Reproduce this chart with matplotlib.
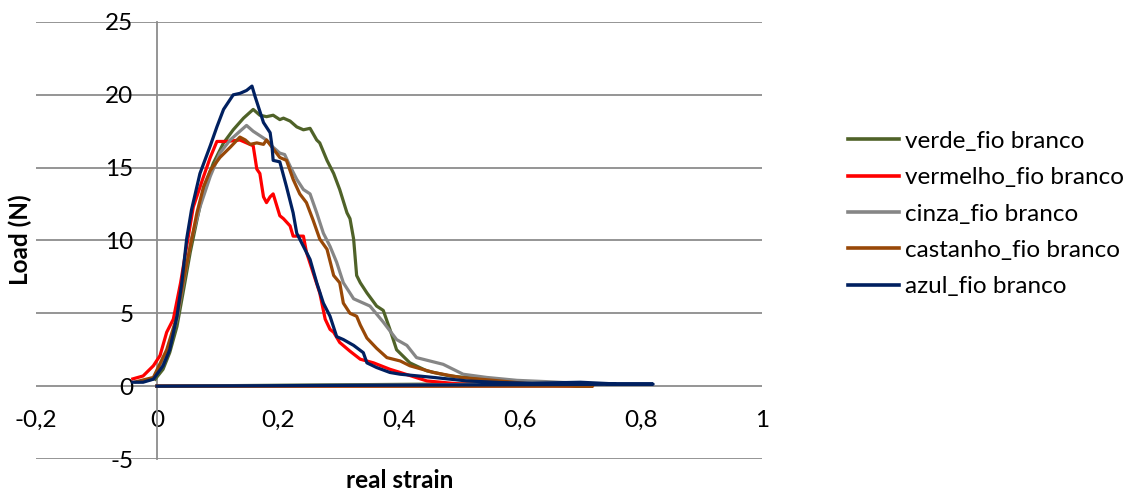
import matplotlib
matplotlib.use("Agg")
import matplotlib.pyplot as plt

plt.rcParams['font.family'] = ['Lato', 'DejaVu Sans']

# ---- data (strain, load) ----
verde_x = [-0.003, 0.010, 0.021, 0.033, 0.043, 0.055, 0.066, 0.077, 0.093, 0.110, 0.126, 0.143, 0.159,
           0.170, 0.181, 0.192, 0.203, 0.209, 0.220, 0.231, 0.242, 0.253, 0.264, 0.269, 0.281, 0.292,
           0.302, 0.314, 0.319, 0.325, 0.330, 0.336, 0.347, 0.363, 0.374, 0.385, 0.396, 0.418, 0.446,
           0.484, 0.539, 0.595, 0.650, 0.0]
verde_y = [0.48, 1.16, 2.3, 4.1, 6.4, 9.2, 11.4, 13.5, 15.3, 16.7, 17.6, 18.4, 19.0,
           18.6, 18.5, 18.6, 18.3, 18.4, 18.2, 17.8, 17.6, 17.7, 16.9, 16.7, 15.5, 14.6,
           13.5, 11.9, 11.5, 10.1, 7.6, 7.1, 6.4, 5.5, 5.2, 3.9, 2.5, 1.6, 1.05,
           0.7, 0.48, 0.3, 0.2, 0.0]

vermelho_x = [-0.040, -0.023, -0.006, 0.005, 0.016, 0.027, 0.039, 0.049, 0.060, 0.077, 0.088, 0.099,
              0.115, 0.137, 0.159, 0.165, 0.170, 0.176, 0.181, 0.187, 0.192, 0.203, 0.209, 0.220,
              0.225, 0.242, 0.247, 0.258, 0.269, 0.278, 0.286, 0.292, 0.302, 0.319, 0.336, 0.358,
              0.385, 0.402, 0.446, 0.50, 0.60, 0.72, 0.0]
vermelho_y = [0.5, 0.7, 1.4, 2.1, 3.7, 4.6, 7.1, 9.6, 12.3, 14.4, 15.7, 16.8,
              16.8, 16.9, 16.5, 14.9, 14.6, 13.0, 12.6, 13.0, 13.2, 11.7, 11.5, 11.0,
              10.3, 10.3, 9.2, 7.8, 6.4, 4.6, 3.9, 3.7, 3.0, 2.4, 1.85, 1.6,
              1.16, 0.94, 0.36, 0.15, 0.08, 0.02, 0.0]

cinza_x = [-0.030, -0.006, 0.016, 0.033, 0.046, 0.057, 0.071, 0.088, 0.104, 0.121, 0.137, 0.148,
           0.159, 0.170, 0.181, 0.192, 0.203, 0.211, 0.220, 0.231, 0.242, 0.253, 0.264, 0.275,
           0.286, 0.297, 0.308, 0.325, 0.352, 0.374, 0.396, 0.413, 0.429, 0.473, 0.506, 0.545,
           0.595, 0.650, 0.720, 0.0]
cinza_y = [0.3, 0.48, 2.3, 4.6, 7.6, 10.1, 12.3, 14.4, 16.0, 16.9, 17.5, 17.9,
           17.5, 17.2, 16.9, 16.4, 16.0, 15.9, 15.1, 14.2, 13.5, 13.2, 11.9, 10.5,
           9.6, 8.5, 7.1, 6.0, 5.5, 4.4, 3.2, 2.8, 1.96, 1.5, 0.82, 0.6,
           0.4, 0.3, 0.15, 0.0]

castanho_x = [-0.035, -0.006, 0.016, 0.033, 0.043, 0.055, 0.066, 0.077, 0.088, 0.104, 0.121, 0.137,
              0.146, 0.154, 0.165, 0.176, 0.181, 0.192, 0.203, 0.214, 0.225, 0.236, 0.247, 0.258,
              0.269, 0.281, 0.292, 0.302, 0.308, 0.319, 0.330, 0.336, 0.347, 0.363, 0.380, 0.402,
              0.418, 0.457, 0.501, 0.567, 0.620, 0.720, 0.0]
castanho_y = [0.3, 0.6, 2.5, 4.8, 7.1, 9.6, 11.9, 13.7, 14.8, 15.7, 16.4, 17.1,
              16.9, 16.6, 16.7, 16.6, 16.9, 16.3, 15.7, 15.5, 14.2, 13.2, 12.6, 11.4,
              10.1, 9.4, 7.6, 7.1, 5.7, 5.0, 4.8, 4.2, 3.3, 2.6, 1.96, 1.73,
              1.4, 0.94, 0.6, 0.36, 0.14, 0.0, 0.0]

azul_x = [-0.040, -0.023, -0.006, 0.010, 0.021, 0.033, 0.041, 0.049, 0.057, 0.071, 0.088, 0.099,
          0.110, 0.126, 0.137, 0.148, 0.157, 0.162, 0.176, 0.187, 0.190, 0.192, 0.203, 0.214,
          0.225, 0.231, 0.242, 0.253, 0.264, 0.275, 0.286, 0.297, 0.308, 0.325, 0.341, 0.347,
          0.363, 0.385, 0.402, 0.457, 0.512, 0.567, 0.620, 0.700, 0.760, 0.820, 0.0]
azul_y = [0.27, 0.27, 0.48, 1.4, 2.5, 4.8, 7.1, 10.1, 12.1, 14.6, 16.5, 17.8,
          19.0, 20.0, 20.1, 20.3, 20.6, 19.9, 18.1, 17.4, 16.5, 15.5, 15.4, 13.7,
          11.9, 10.5, 9.6, 8.7, 7.1, 5.7, 4.8, 3.4, 3.2, 2.8, 2.3, 1.6,
          1.28, 0.94, 0.82, 0.6, 0.36, 0.25, 0.2, 0.27, 0.15, 0.14, 0.0]

series_names = ["verde_fio branco", "vermelho_fio branco", "cinza_fio branco",
                "castanho_fio branco", "azul_fio branco"]
series_x = [verde_x, vermelho_x, cinza_x, castanho_x, azul_x]
series_y = [verde_y, vermelho_y, cinza_y, castanho_y, azul_y]
colors = ["#4F6228", "#FF0000", "#868686", "#984807", "#002060"]

x_ticks = [-0.2, 0, 0.2, 0.4, 0.6, 0.8, 1]
x_tick_labels = ["-0,2", "0", "0,2", "0,4", "0,6", "0,8", "1"]
y_ticks = [-5, 0, 5, 10, 15, 20, 25]
y_tick_labels = ["-5", "0", "5", "10", "15", "20", "25"]

# ---- figure ----
W, H = 1139, 491
fig = plt.figure(figsize=(W / 100, H / 100), dpi=100)
ax = fig.add_axes([36 / W, 1 - 459 / H, (762 - 36) / W, (459 - 22) / H])

grid_c = "#8C8C8C"
for xs, ys, c, n in zip(series_x, series_y, colors, series_names):
    ax.plot(xs, ys, color=c, lw=2.3, label=n, solid_joinstyle='round', zorder=3)

ax.set_xlim(-0.2, 1)
ax.set_ylim(-5, 25)
ax.set_xticks(x_ticks)
ax.set_xticklabels(x_tick_labels)
ax.set_yticks(y_ticks)
ax.set_yticklabels(y_tick_labels)

ax.yaxis.grid(True, color=grid_c, lw=1.3, zorder=1)
ax.set_axisbelow(True)
for s in ["top", "right"]:
    ax.spines[s].set_visible(False)
ax.spines["left"].set_position(("data", 0))
ax.spines["left"].set_color(grid_c)
ax.spines["left"].set_linewidth(1.3)
ax.spines["bottom"].set_position(("data", 0))
ax.spines["bottom"].set_visible(False)

ax.tick_params(axis="both", length=0, labelsize=17.5, colors="black")
ax.tick_params(axis="y", pad=17)
ax.tick_params(axis="x", pad=17)

fig.text(20 / W, 1 - 240 / H, "Load (N)", rotation=90, ha="center", va="center",
         fontsize=17.5, fontweight="bold")
fig.text(400 / W, 1 - 481 / H, "real strain", ha="center", va="center",
         fontsize=17.5, fontweight="bold")

leg = fig.legend(loc="center left", bbox_to_anchor=(848 / W, 1 - 214 / H), frameon=False,
                 fontsize=17.5, handlelength=2.1, handletextpad=0.25, labelspacing=0.63,
                 borderpad=0, borderaxespad=0)
for l in leg.get_lines():
    l.set_linewidth(2.6)

fig.savefig("out.png", dpi=100)
